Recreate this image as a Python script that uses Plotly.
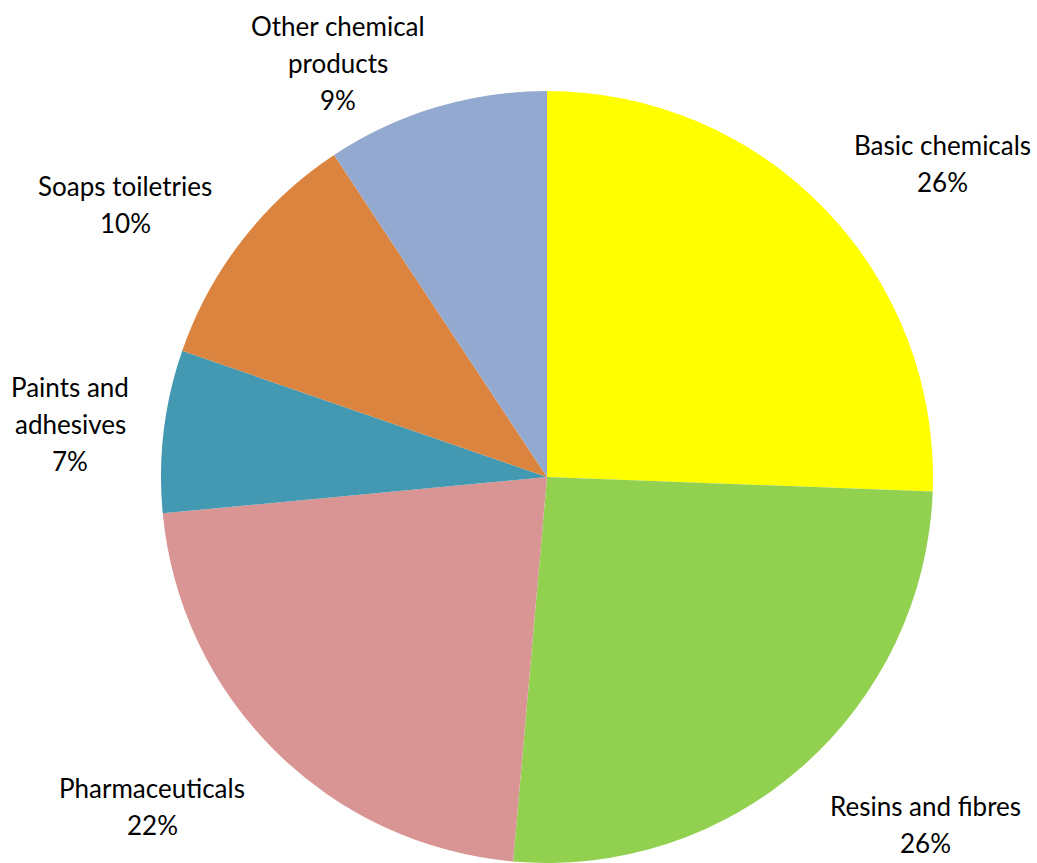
import plotly.graph_objects as go

# Share of chemical industry output by sector (%)
sectors = ["Basic chemicals", "Resins and fibres", "Pharmaceuticals",
           "Paints and adhesives", "Soaps toiletries", "Other chemical products"]
shares = [25.6, 25.8, 22.1, 6.8, 10.4, 9.3]
colors = ["#FFFF00", "#92D050", "#D99594", "#4399B1", "#DB843F", "#94A9CF"]

# label text lines (wrapped) and their placement in pixels (centre x, first line y)
label_lines = {
    "Basic chemicals": ["Basic chemicals"],
    "Resins and fibres": ["Resins and fibres"],
    "Pharmaceuticals": ["Pharmaceuticals"],
    "Paints and adhesives": ["Paints and", "adhesives"],
    "Soaps toiletries": ["Soaps toiletries"],
    "Other chemical products": ["Other chemical", "products"],
}
label_pos = {
    "Basic chemicals": (942, 145),
    "Resins and fibres": (925, 806),
    "Pharmaceuticals": (152, 788),
    "Paints and adhesives": (70, 387),
    "Soaps toiletries": (125, 186),
    "Other chemical products": (338, 26),
}

W, H = 1037, 863
LINE = 37
FONT = dict(family="Lato, 'Noto Sans', sans-serif", size=26, color="#000000")

fig = go.Figure(go.Pie(
    labels=sectors,
    values=shares,
    marker=dict(colors=colors, line=dict(width=0)),
    sort=False,
    direction="clockwise",
    rotation=0,
    textinfo="none",
    hoverinfo="label+percent",
    showlegend=False,
    domain=dict(x=[159 / W, 935 / W], y=[0, 1 - 91 / H]),
))

total = sum(shares)
annotations = []
for name, v in zip(sectors, shares):
    lines = label_lines[name] + [f"{round(v / total * 100)}%"]
    cx, y0 = label_pos[name]
    for i, line in enumerate(lines):
        annotations.append(dict(
            x=cx / W, y=1 - (y0 + i * LINE) / H,
            xref="paper", yref="paper",
            xanchor="center", yanchor="middle",
            text=line, showarrow=False, font=FONT,
        ))

fig.update_layout(
    width=W, height=H,
    margin=dict(l=0, r=0, t=0, b=0),
    paper_bgcolor="#FFFFFF",
    plot_bgcolor="#FFFFFF",
    annotations=annotations,
)

fig.write_html("out.html")
